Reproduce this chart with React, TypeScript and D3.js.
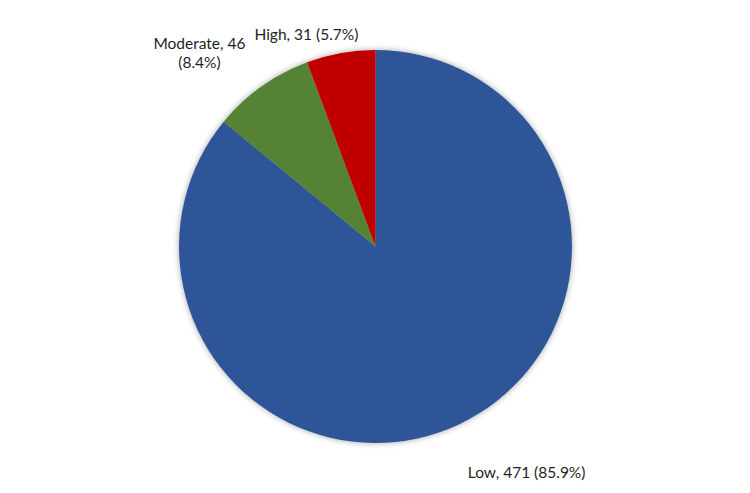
import React from 'react';
import * as d3 from 'd3';

const categories = ['Low', 'Moderate', 'High'];
const counts = [471, 46, 31];
const percents = ['85.9%', '8.4%', '5.7%'];
const colors = ['#2F5597', '#548235', '#C00000'];

const W = 750;
const H = 493;

// label anchors relative to slice direction (Excel-like best fit placement)
const labelLayout = [
  { r: 232, dx: 52, dy: 22, anchor: 'middle', lines: (i: number) => [`${categories[i]}, ${counts[i]} (${percents[i]})`] },
  { r: 212, dx: -53, dy: -25, anchor: 'middle', lines: (i: number) => [`${categories[i]}, ${counts[i]}`, `(${percents[i]})`] },
  { r: 210, dx: -32, dy: 0, anchor: 'middle', lines: (i: number) => [`${categories[i]}, ${counts[i]} (${percents[i]})`] },
];

const App: React.FC = () => {
  const cx = 375.5;
  const cy = 246.5;
  const radius = 196.5;

  const pie = d3.pie<number>().sort(null).value(d => d);
  const arcs = pie(counts);
  const arc = d3.arc<d3.PieArcDatum<number>>().innerRadius(0).outerRadius(radius);

  return (
    <svg width={W} height={H} style={{ position: 'absolute', left: 0, top: 0 }}>
      <defs>
        <filter id="shadow" x="-20%" y="-20%" width="140%" height="140%">
          <feGaussianBlur in="SourceAlpha" stdDeviation="3" />
          <feOffset dx="0" dy="0" result="blur" />
          <feComponentTransfer>
            <feFuncA type="linear" slope="0.35" />
          </feComponentTransfer>
          <feMerge>
            <feMergeNode />
            <feMergeNode in="SourceGraphic" />
          </feMerge>
        </filter>
      </defs>
      <rect width={W} height={H} fill="#fff" />
      <g transform={`translate(${cx},${cy})`} filter="url(#shadow)">
        {arcs.map((a, i) => (
          <path key={categories[i]} d={arc(a) || ''} fill={colors[i]} />
        ))}
      </g>
      <g transform={`translate(${cx},${cy})`} fontFamily="Lato, 'Noto Sans', sans-serif" fontSize={15.5} fill="#1f1f1f">
        {arcs.map((a, i) => {
          const L = labelLayout[i];
          const mid = (a.startAngle + a.endAngle) / 2;
          const x = L.r * Math.sin(mid) + L.dx;
          const y = -L.r * Math.cos(mid) + L.dy;
          const lines = L.lines(i);
          return (
            <text key={categories[i]} x={x} y={y} textAnchor={L.anchor}>
              {lines.map((t, j) => (
                <tspan key={j} x={x} dy={j === 0 ? 0 : 19}>{t}</tspan>
              ))}
            </text>
          );
        })}
      </g>
    </svg>
  );
};

export default App;
